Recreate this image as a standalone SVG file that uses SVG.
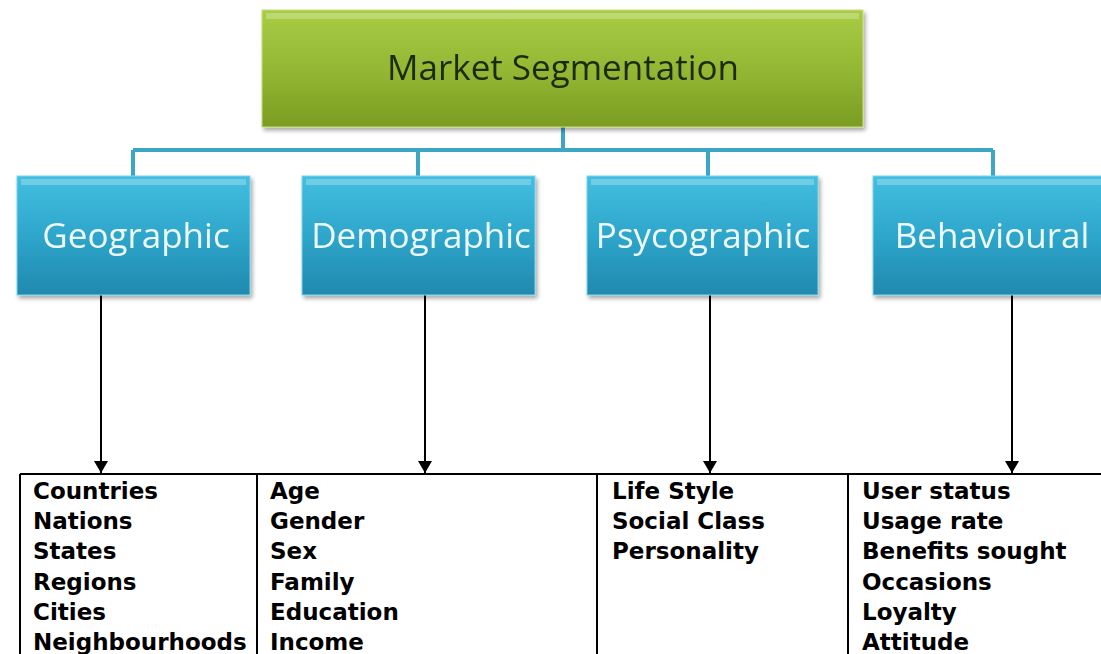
<svg xmlns="http://www.w3.org/2000/svg" width="1101" height="654" viewBox="0 0 1101 654">
  <defs>
    <linearGradient id="gGreen" x1="0" y1="0" x2="0" y2="1">
      <stop offset="0" stop-color="#a9cc45"/>
      <stop offset="0.5" stop-color="#94b834"/>
      <stop offset="1" stop-color="#7b9c22"/>
    </linearGradient>
    <linearGradient id="gBlue" x1="0" y1="0" x2="0" y2="1">
      <stop offset="0" stop-color="#43bfe0"/>
      <stop offset="0.5" stop-color="#2ea6cb"/>
      <stop offset="1" stop-color="#2089ad"/>
    </linearGradient>
    <filter id="shadow" x="-5%" y="-5%" width="115%" height="120%">
      <feGaussianBlur in="SourceAlpha" stdDeviation="2"/>
      <feOffset dx="2" dy="3" result="b"/>
      <feComponentTransfer><feFuncA type="linear" slope="0.35"/></feComponentTransfer>
      <feMerge><feMergeNode/><feMergeNode in="SourceGraphic"/></feMerge>
    </filter>
    <marker id="arrow" viewBox="0 0 12 14" refX="12" refY="7" markerWidth="12" markerHeight="14" markerUnits="userSpaceOnUse" orient="auto">
      <path d="M0,0 L12,7 L0,14 z" fill="#000"/>
    </marker>
  </defs>
  <style>
    .title { font-family: "Open Sans", "Liberation Sans", sans-serif; font-size: 35px; fill: #1c2a08; }
    .cat { font-family: "Open Sans", "Liberation Sans", sans-serif; font-size: 35px; fill: #eef9fd; }
    .item { font-family: "DejaVu Sans", "Liberation Sans", sans-serif; font-weight: bold; font-size: 23px; fill: #000; }
    .teal { stroke: #3ca6c4; stroke-width: 4; fill: none; }
    .black { stroke: #000; stroke-width: 2; fill: none; }
    .grid { stroke: #000; stroke-width: 2; fill: none; }
    .hl { fill: #ffffff; opacity: 0.25; }
  </style>

  <rect width="1101" height="654" fill="#ffffff"/>

  <!-- connectors -->
  <g id="connectors">
    <path class="teal" d="M563,127 V150 M133,150 H993 M133,150 V176 M418,150 V176 M708,150 V176 M993,150 V176"/>
    <line class="black" x1="101" y1="295" x2="101" y2="473" marker-end="url(#arrow)"/>
    <line class="black" x1="425" y1="295" x2="425" y2="473" marker-end="url(#arrow)"/>
    <line class="black" x1="710" y1="295" x2="710" y2="473" marker-end="url(#arrow)"/>
    <line class="black" x1="1012" y1="295" x2="1012" y2="473" marker-end="url(#arrow)"/>
  </g>

  <!-- root -->
  <g id="market-segmentation" filter="url(#shadow)">
    <rect x="262" y="10" width="601" height="117" fill="url(#gGreen)" stroke="#c8de7a" stroke-width="1"/>
    <rect class="hl" x="266" y="13" width="593" height="6"/>
    <text class="title" x="563" y="80" text-anchor="middle">Market Segmentation</text>
  </g>

  <!-- categories -->
  <g id="geographic" filter="url(#shadow)">
    <rect x="17" y="176" width="233" height="119" fill="url(#gBlue)" stroke="#7dd6ec" stroke-width="1"/>
    <rect class="hl" x="21" y="179" width="225" height="6"/>
    <text class="cat" x="136" y="248" text-anchor="middle">Geographic</text>
  </g>
  <g id="demographic" filter="url(#shadow)">
    <rect x="302" y="176" width="233" height="119" fill="url(#gBlue)" stroke="#7dd6ec" stroke-width="1"/>
    <rect class="hl" x="306" y="179" width="225" height="6"/>
    <text class="cat" x="421" y="248" text-anchor="middle">Demographic</text>
  </g>
  <g id="psycographic" filter="url(#shadow)">
    <rect x="587" y="176" width="231" height="119" fill="url(#gBlue)" stroke="#7dd6ec" stroke-width="1"/>
    <rect class="hl" x="591" y="179" width="223" height="6"/>
    <text class="cat" x="703" y="248" text-anchor="middle">Psycographic</text>
  </g>
  <g id="behavioural" filter="url(#shadow)">
    <rect x="873" y="176" width="240" height="119" fill="url(#gBlue)" stroke="#7dd6ec" stroke-width="1"/>
    <rect class="hl" x="877" y="179" width="232" height="6"/>
    <text class="cat" x="992" y="248" text-anchor="middle">Behavioural</text>
  </g>

  <!-- detail table -->
  <g id="table">
    <path class="grid" d="M20,474 H1101 M20,474 V654 M257,474 V654 M597,474 V654 M848,474 V654"/>
  </g>

  <g id="geographic-items">
    <text class="item" x="33" y="499">Countries</text>
    <text class="item" x="33" y="529">Nations</text>
    <text class="item" x="33" y="559">States</text>
    <text class="item" x="33" y="590">Regions</text>
    <text class="item" x="33" y="620">Cities</text>
    <text class="item" x="33" y="650">Neighbourhoods</text>
  </g>
  <g id="demographic-items">
    <text class="item" x="270" y="499">Age</text>
    <text class="item" x="270" y="529">Gender</text>
    <text class="item" x="270" y="559">Sex</text>
    <text class="item" x="270" y="590">Family</text>
    <text class="item" x="270" y="620">Education</text>
    <text class="item" x="270" y="650">Income</text>
  </g>
  <g id="psycographic-items">
    <text class="item" x="612" y="499">Life Style</text>
    <text class="item" x="612" y="529">Social Class</text>
    <text class="item" x="612" y="559">Personality</text>
  </g>
  <g id="behavioural-items">
    <text class="item" x="862" y="499">User status</text>
    <text class="item" x="862" y="529">Usage rate</text>
    <text class="item" x="862" y="559">Benefits sought</text>
    <text class="item" x="862" y="590">Occasions</text>
    <text class="item" x="862" y="620">Loyalty</text>
    <text class="item" x="862" y="650">Attitude</text>
  </g>
</svg>
